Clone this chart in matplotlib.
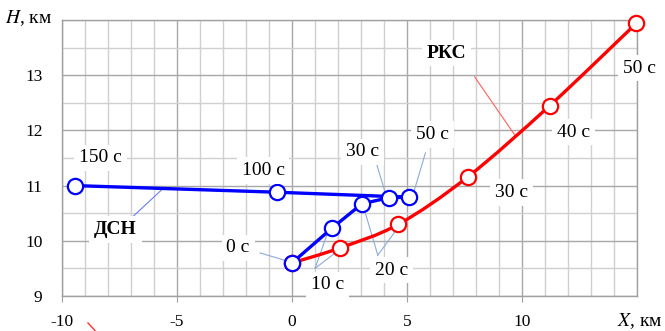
import matplotlib
matplotlib.use("Agg")
import matplotlib.pyplot as plt
from matplotlib.path import Path
from matplotlib.patches import PathPatch
from matplotlib.lines import Line2D
from matplotlib.ticker import MultipleLocator, FuncFormatter
import numpy as np

plt.rcParams['font.family'] = ['Liberation Serif', 'DejaVu Serif']

# ДСН trajectory (blue)
dsn_x = [0.0, 1.74, 3.04, 4.2, 5.08, -0.65, -9.42]
dsn_h = [9.6, 10.23, 10.67, 10.78, 10.79, 10.88, 11.0]

# РКС trajectory (red)
rks_x = [0.0, 2.08, 4.63, 7.65, 11.21, 14.97]
rks_h = [9.6, 9.87, 10.30, 11.16, 12.45, 13.94]

x_ticks = [-10, -5, 0, 5, 10]
y_ticks = [9, 10, 11, 12, 13]

# (text, x, y, bold)
labels = [
    ("150 с", -8.33, 11.5, False),
    ("100 с", -1.26, 11.28, False),
    ("30 с", 3.08, 11.61, False),
    ("50 с", 6.12, 11.92, False),
    ("0 с", -2.34, 9.87, False),
    ("10 с", 1.56, 9.2, False),
    ("20 с", 4.34, 9.47, False),
    ("30 с", 9.55, 10.87, False),
    ("40 с", 12.24, 11.97, False),
    ("50 с", 15.1, 13.13, False),
    ("РКС", 6.73, 13.4, True),
    ("ДСН", -7.68, 10.2, True),
]

# leader lines: (x0, y0, x1, y1, color)
leaders = [
    (3.63, 11.46, 4.04, 10.89, '#8eaad6'),
    (5.80, 11.59, 5.30, 10.89, '#8eaad6'),
    (-1.39, 9.78, -0.09, 9.62, '#8eaad6'),
    (1.0, 9.50, 1.51, 10.10, '#8eaad6'),
    (1.0, 9.50, 1.94, 9.80, '#8eaad6'),
    (3.73, 9.74, 3.17, 10.53, '#8eaad6'),
    (3.73, 9.74, 4.47, 10.16, '#8eaad6'),
    (7.94, 12.97, 9.68, 11.92, '#ff6060'),
    (-7.12, 10.36, -5.6, 10.95, '#6a7ff0'),
]

fig = plt.figure(figsize=(6.65, 3.31), dpi=100)
ax = fig.add_axes([62/665, 1-296/331, (637-62)/665, (296-20)/331])
ax.set_xlim(-10, 15)
ax.set_ylim(9, 14)

ax.xaxis.set_major_locator(MultipleLocator(5))
ax.xaxis.set_minor_locator(MultipleLocator(1))
ax.yaxis.set_major_locator(MultipleLocator(1))
ax.yaxis.set_minor_locator(MultipleLocator(0.5))
ax.set_xticks(x_ticks)
ax.set_yticks(y_ticks)
ax.xaxis.set_major_formatter(FuncFormatter(lambda v, p: f"{int(v)}"))
ax.yaxis.set_major_formatter(FuncFormatter(lambda v, p: f"{int(v)}"))

ax.grid(True, which='major', color='#a8a8a8', lw=1.0)
ax.grid(True, which='minor', color='#d0d0d0', lw=1.0)
ax.set_axisbelow(True)
for s in ax.spines.values():
    s.set_color('#a0a0a0')
    s.set_linewidth(1.0)
ax.tick_params(axis='x', which='major', length=4, color='#a0a0a0', labelsize=12.5, pad=9)
ax.tick_params(axis='y', which='major', length=0, labelsize=12.5, pad=14)
ax.tick_params(which='minor', length=0)

# leader lines
for x0, y0, x1, y1, c in leaders:
    ax.plot([x0, x1], [y0, y1], color=c, lw=0.8, zorder=3)

# blue polyline
ax.plot(dsn_x, dsn_h, color='#0000ff', lw=2.4, zorder=4, solid_capstyle='round')

# red smooth curve (Bezier through data points)
P = np.column_stack([rks_x, rks_h])
n = len(P)
verts = [P[0]]
codes = [Path.MOVETO]
for i in range(n - 1):
    p_prev = P[i - 1] if i > 0 else P[i]
    p_next2 = P[i + 2] if i + 2 < n else P[i + 1]
    c1 = P[i] + (P[i + 1] - p_prev) / 6.0
    c2 = P[i + 1] - (p_next2 - P[i]) / 6.0
    verts += [c1, c2, P[i + 1]]
    codes += [Path.CURVE4] * 3
ax.add_patch(PathPatch(Path(verts, codes), facecolor='none', edgecolor='#ff0000',
                       lw=2.4, zorder=4, clip_on=False))

ax.plot(rks_x, rks_h, linestyle='none', marker='o', ms=11, mfc='white',
        mec='#ff0000', mew=1.6, zorder=5, clip_on=False)
ax.plot(dsn_x, dsn_h, linestyle='none', marker='o', ms=11, mfc='white',
        mec='#0000ff', mew=1.6, zorder=6, clip_on=False)

for t, x, y, b in labels:
    ax.text(x, y, t, fontsize=14, fontweight='bold' if b else 'normal',
            ha='center', va='center', zorder=7,
            bbox=dict(boxstyle='square,pad=0.25', fc='white', ec='none'))

fig.text(5/665, 1-18/331, r"$H$, км", fontsize=14, ha='left', va='center',
         math_fontfamily='stix')
fig.text(663/665, 1-321/331, r"$X$, км", fontsize=14, ha='right', va='center',
         math_fontfamily='stix')

fig.add_artist(Line2D([88/665, 95/665], [1-323/331, 1-330.5/331], color='#ff3030', lw=1.0,
                      transform=fig.transFigure))

fig.savefig("out.png", dpi=100)
